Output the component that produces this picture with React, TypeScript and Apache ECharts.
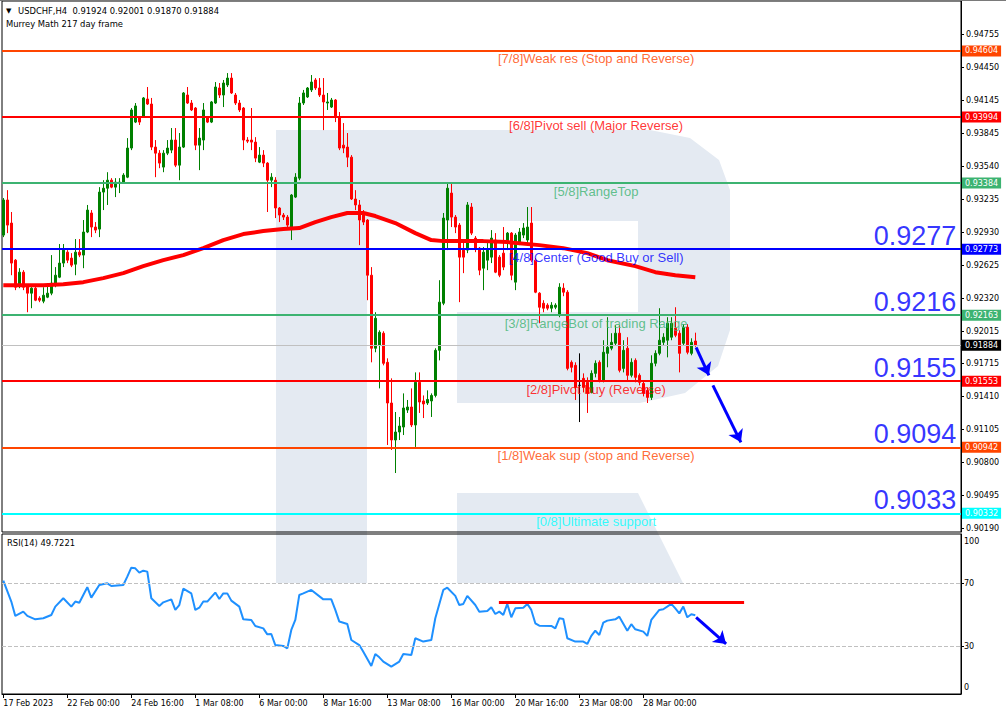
import { useEffect, useRef } from 'react';
import * as echarts from 'echarts';

// ---------------- DATA ----------------
const candleOpen = [
  0.92903, 0.93227, 0.93014, 0.92671, 0.92440, 0.92560, 0.92440, 0.92366, 0.92412, 0.92320,
  0.92292, 0.92329, 0.92366, 0.92440, 0.92514, 0.92644, 0.92745, 0.92690, 0.92634, 0.92745,
  0.92718, 0.92931, 0.93107, 0.92977, 0.92958, 0.93300, 0.93336, 0.93410, 0.93346, 0.93383,
  0.93392, 0.93438, 0.93707, 0.93947, 0.93994, 0.93994, 0.94160, 0.94114, 0.93716, 0.93660,
  0.93531, 0.93660, 0.93688, 0.93781, 0.93549, 0.93716, 0.94197, 0.94123, 0.94077, 0.93734,
  0.93781, 0.93985, 0.93947, 0.94123, 0.94262, 0.94197, 0.94290, 0.94354, 0.94197, 0.94123,
  0.94077, 0.93781, 0.93781, 0.93762, 0.93577, 0.93642, 0.93568, 0.93410, 0.93410, 0.93153,
  0.93088, 0.93069, 0.92977, 0.93254, 0.93429, 0.94123, 0.94179, 0.94244, 0.94336, 0.94262,
  0.94197, 0.94123, 0.94086, 0.94151, 0.93994, 0.93734, 0.93716, 0.93623, 0.93236, 0.93181,
  0.93088, 0.93042, 0.92532, 0.91857, 0.91884, 0.91996, 0.91727, 0.91351, 0.91009, 0.91083,
  0.91129, 0.91286, 0.91314, 0.91148, 0.91542, 0.91370, 0.91351, 0.91370, 0.91421, 0.91838,
  0.92273, 0.93042, 0.93291, 0.93069, 0.92995, 0.92764, 0.92764, 0.93162, 0.92875, 0.92782,
  0.92597, 0.92671, 0.92699, 0.92857, 0.92699, 0.92736, 0.92838, 0.92921, 0.92468, 0.92838,
  0.92903, 0.92857, 0.93014, 0.92671, 0.92366, 0.92273, 0.92255, 0.92227, 0.92236, 0.92162,
  0.92412, 0.92375, 0.91727, 0.91699, 0.91514, 0.91579, 0.91542, 0.91449, 0.91625, 0.91727,
  0.91560, 0.91810, 0.91857, 0.91903, 0.91996, 0.91671, 0.91857, 0.91607, 0.91745, 0.91607,
  0.91532, 0.91468, 0.91403, 0.91718, 0.91810, 0.91912, 0.91931, 0.91959, 0.92042, 0.91996,
  0.91903, 0.92051, 0.91810, 0.91924
];
const candleClose = [
  0.93227, 0.92995, 0.92644, 0.92421, 0.92560, 0.92421, 0.92366, 0.92412, 0.92301, 0.92301,
  0.92347, 0.92366, 0.92458, 0.92532, 0.92644, 0.92764, 0.92671, 0.92625, 0.92745, 0.92718,
  0.92931, 0.93134, 0.92977, 0.92949, 0.93300, 0.93336, 0.93410, 0.93346, 0.93392, 0.93392,
  0.93457, 0.93707, 0.94059, 0.94096, 0.93947, 0.94170, 0.94114, 0.93716, 0.93660, 0.93568,
  0.93660, 0.93707, 0.93781, 0.93549, 0.93716, 0.94216, 0.94123, 0.94059, 0.93734, 0.93799,
  0.94059, 0.93947, 0.94133, 0.94271, 0.94197, 0.94308, 0.94354, 0.94216, 0.94123, 0.94059,
  0.93781, 0.93771, 0.93762, 0.93614, 0.93642, 0.93568, 0.93410, 0.93438, 0.93153, 0.93088,
  0.93069, 0.92995, 0.93273, 0.93438, 0.94123, 0.94216, 0.94262, 0.94317, 0.94262, 0.94197,
  0.94133, 0.94133, 0.94151, 0.93994, 0.93707, 0.93707, 0.93623, 0.93236, 0.93181, 0.93042,
  0.93023, 0.92532, 0.91857, 0.92134, 0.92005, 0.91718, 0.91351, 0.91009, 0.91083, 0.91138,
  0.91305, 0.91314, 0.91148, 0.91542, 0.91360, 0.91342, 0.91384, 0.91421, 0.91838, 0.92283,
  0.93060, 0.93336, 0.93069, 0.92977, 0.92699, 0.92699, 0.93181, 0.92921, 0.92782, 0.92579,
  0.92745, 0.92764, 0.92875, 0.92560, 0.92532, 0.92607, 0.92921, 0.92532, 0.92903, 0.92931,
  0.92968, 0.92977, 0.92671, 0.92375, 0.92236, 0.92227, 0.92227, 0.92255, 0.92255, 0.92421,
  0.92375, 0.91671, 0.91681, 0.91495, 0.91514, 0.91495, 0.91440, 0.91625, 0.91718, 0.91560,
  0.91820, 0.91866, 0.91912, 0.91996, 0.91653, 0.91838, 0.91607, 0.91727, 0.91588, 0.91542,
  0.91440, 0.91403, 0.91718, 0.91810, 0.91931, 0.91959, 0.92088, 0.92088, 0.91977, 0.91810,
  0.92051, 0.91820, 0.91912, 0.91884
];
const candleLow = [
  0.92884, 0.92921, 0.92532, 0.92394, 0.92412, 0.92394, 0.92190, 0.92227, 0.92292, 0.92283,
  0.92273, 0.92320, 0.92347, 0.92421, 0.92505, 0.92607, 0.92644, 0.92607, 0.92532, 0.92699,
  0.92597, 0.92921, 0.92884, 0.92921, 0.92884, 0.93134, 0.93181, 0.93336, 0.93254, 0.93291,
  0.93383, 0.93429, 0.93688, 0.93938, 0.93920, 0.93985, 0.94105, 0.93688, 0.93438, 0.93521,
  0.93484, 0.93642, 0.93660, 0.93531, 0.93410, 0.93707, 0.94114, 0.94049, 0.93688, 0.93503,
  0.93688, 0.93938, 0.93938, 0.94114, 0.94170, 0.94086, 0.94271, 0.94207, 0.94105, 0.94040,
  0.93688, 0.93753, 0.93688, 0.93577, 0.93568, 0.93531, 0.93116, 0.93346, 0.93060, 0.93023,
  0.93042, 0.92977, 0.92857, 0.93245, 0.93410, 0.94105, 0.94170, 0.94225, 0.94244, 0.94179,
  0.93873, 0.94059, 0.94077, 0.93947, 0.93688, 0.93660, 0.93531, 0.93227, 0.93134, 0.92810,
  0.92995, 0.92301, 0.91727, 0.91820, 0.91486, 0.91699, 0.90963, 0.90917, 0.90704, 0.91009,
  0.91055, 0.91259, 0.91129, 0.90945, 0.91259, 0.91212, 0.91333, 0.91222, 0.91403, 0.91745,
  0.92255, 0.92764, 0.92977, 0.92921, 0.92283, 0.92551, 0.92736, 0.92903, 0.92745, 0.92532,
  0.92394, 0.92579, 0.92644, 0.92551, 0.92514, 0.92579, 0.92764, 0.92486, 0.92394, 0.92810,
  0.92875, 0.92829, 0.92653, 0.92366, 0.92088, 0.92190, 0.92208, 0.92190, 0.92218, 0.92144,
  0.92338, 0.91653, 0.91634, 0.91379, 0.91175, 0.91449, 0.91259, 0.91440, 0.91588, 0.91542,
  0.91542, 0.91681, 0.91838, 0.91884, 0.91634, 0.91634, 0.91560, 0.91588, 0.91542, 0.91514,
  0.91412, 0.91351, 0.91379, 0.91690, 0.91792, 0.91884, 0.91773, 0.91931, 0.91959, 0.91634,
  0.91884, 0.91801, 0.91792, 0.91870
];
const candleHigh = [
  0.93245, 0.93318, 0.93116, 0.92681, 0.92597, 0.92579, 0.92449, 0.92421, 0.92431, 0.92338,
  0.92421, 0.92458, 0.92718, 0.92607, 0.92820, 0.92820, 0.92764, 0.92736, 0.92866, 0.92866,
  0.93042, 0.93181, 0.93134, 0.93023, 0.93346, 0.93410, 0.93484, 0.93429, 0.93429, 0.93429,
  0.93475, 0.93799, 0.94077, 0.94123, 0.94003, 0.94179, 0.94271, 0.94170, 0.93781, 0.93688,
  0.93688, 0.93781, 0.93892, 0.93892, 0.93846, 0.94225, 0.94271, 0.94151, 0.94086, 0.93892,
  0.94123, 0.93994, 0.94142, 0.94317, 0.94308, 0.94336, 0.94400, 0.94400, 0.94216, 0.94151,
  0.94086, 0.93808, 0.94077, 0.93808, 0.93716, 0.93688, 0.93577, 0.93475, 0.93438, 0.93162,
  0.93107, 0.93088, 0.93282, 0.93475, 0.94179, 0.94244, 0.94271, 0.94382, 0.94354, 0.94354,
  0.94354, 0.94216, 0.94170, 0.94160, 0.94040, 0.93938, 0.93846, 0.93642, 0.93318, 0.93227,
  0.93134, 0.93051, 0.92607, 0.92190, 0.92023, 0.92014, 0.91764, 0.91579, 0.91268, 0.91222,
  0.91440, 0.91379, 0.91486, 0.91634, 0.91634, 0.91421, 0.91468, 0.91440, 0.91857, 0.92486,
  0.93107, 0.93383, 0.93383, 0.93088, 0.93014, 0.92838, 0.93208, 0.93199, 0.92894, 0.92792,
  0.92792, 0.92829, 0.92949, 0.92921, 0.92718, 0.92977, 0.92931, 0.92931, 0.92921, 0.92968,
  0.93014, 0.93162, 0.93162, 0.92690, 0.92375, 0.92301, 0.92273, 0.92283, 0.92273, 0.92458,
  0.92458, 0.92394, 0.91745, 0.91727, 0.91810, 0.91625, 0.91588, 0.91653, 0.91745, 0.91745,
  0.91931, 0.92144, 0.91996, 0.92070, 0.92070, 0.91931, 0.91959, 0.91764, 0.91764, 0.91625,
  0.91560, 0.91495, 0.91792, 0.91838, 0.92227, 0.91996, 0.92144, 0.92144, 0.92236, 0.92023,
  0.92079, 0.92079, 0.91949, 0.92001
];

// moving average (read at sample bars)
const maBars = [0, 10, 15, 20, 25, 30, 35, 40, 45, 50, 55, 60, 65, 70, 74, 78, 82, 86, 90, 93, 98, 103, 107, 110, 120, 126, 134, 140, 146, 151, 158, 163, 168, 173];
const maValues = [0.92440, 0.92440, 0.92449, 0.92468, 0.92505, 0.92551, 0.92616, 0.92671, 0.92718, 0.92782, 0.92857, 0.92912, 0.92940, 0.92958, 0.92968, 0.93023, 0.93069, 0.93107, 0.93107, 0.93079, 0.93014, 0.92921, 0.92857, 0.92847, 0.92847, 0.92838, 0.92810, 0.92782, 0.92736, 0.92671, 0.92616, 0.92560, 0.92532, 0.92514];

// RSI(14)
const rsiBars = [0, 2, 3, 5, 6, 7, 8, 10, 12, 13, 15, 17, 18, 19, 21, 22, 24, 26, 27, 30, 31, 32, 33, 34, 35, 36, 37, 39, 40, 42, 43, 44, 45, 47, 48, 49, 50, 51, 53, 54, 55, 56, 57, 59, 60, 62, 63, 65, 66, 67, 68, 70, 71, 72, 73, 74, 75, 77, 80, 82, 83, 84, 86, 87, 89, 90, 92, 93, 94, 95, 97, 99, 100, 102, 103, 105, 107, 108, 110, 111, 113, 114, 115, 116, 118, 119, 121, 122, 123, 124, 125, 126, 127, 128, 130, 131, 132, 133, 134, 137, 138, 139, 140, 141, 143, 145, 146, 147, 148, 149, 150, 151, 153, 154, 156, 157, 158, 160, 161, 162, 163, 164, 165, 167, 168, 169, 170, 171, 172, 173];
const rsiValues = [71.7, 58.4, 49.3, 52, 49.3, 48.2, 47.1, 47.8, 49.9, 55.2, 60.5, 55.2, 58.4, 57.7, 67.5, 60.9, 68.9, 70, 68.3, 68.9, 74.2, 79.9, 79.5, 76.8, 78, 77.4, 60.5, 55.6, 57.9, 59.8, 53.1, 56.2, 66.6, 63.6, 53.1, 54.5, 58.4, 58.4, 64.1, 60, 63.6, 63.6, 59, 55.2, 47.1, 46.7, 42.9, 41.4, 37.6, 37.8, 30.8, 30.2, 28.7, 40.4, 46.7, 62.6, 63.6, 65.8, 59.8, 59.8, 53.1, 45.7, 44.2, 34, 30.8, 26.6, 17.5, 25.1, 23, 20.3, 17.1, 20.3, 25.1, 24.5, 35.1, 33, 34, 47.8, 65.8, 67.2, 62, 56.2, 56.9, 62, 56.2, 52, 52.4, 54.8, 50.5, 52, 49.9, 56.9, 48.4, 54.1, 54.5, 56.9, 53.1, 44.6, 43.1, 42.9, 41.4, 47.8, 47.4, 35.1, 33, 33, 31.5, 36.6, 39.9, 37.2, 45, 46.3, 47.1, 48.8, 39.9, 44, 40.8, 39.3, 36.6, 46.7, 49.9, 53.1, 53.5, 56.9, 54.1, 50.9, 55.2, 48.4, 50.3, 49.7221];
const rsiLevels = [70, 30];
const rsiTicks = [0, 30, 70, 100];

// Murrey Math levels
const levelValues = [0.94604, 0.93994, 0.93384, 0.92773, 0.92163, 0.91553, 0.90942, 0.90332];
const levelNames = [
  '[7/8]Weak res (Stop and Reverse)',
  '[6/8]Pivot sell (Major Reverse)',
  '[5/8]RangeTop',
  '[4/8]Center (Good Buy or Sell)',
  '[3/8]RangeBot of trading Range',
  '[2/8]Pivot buy (Reverse)',
  '[1/8]Weak sup (stop and Reverse)',
  '[0/8]Ultimate support'
];
const bigLabelLevels = [0.92773, 0.92163, 0.91553, 0.90942, 0.90332];
const bidPrice = 0.91884;

// trend annotations (bar index, value)
const priceArrows = [
  [[173.2, 0.91866], [176.4, 0.91607]],
  [[177.4, 0.91514], [184.4, 0.90988]]
];
const rsiResistance = [[123.9, 57.7], [185.2, 57.7]];
const rsiArrow = [[173.2, 48.4], [180.7, 31.5]];

// axis ticks
const priceTicks = [0.94755, 0.94450, 0.94145, 0.93845, 0.93540, 0.93235, 0.92930, 0.92625, 0.92320, 0.92015, 0.91715, 0.91410, 0.91105, 0.90800, 0.90495, 0.90190];
const timeTickBars = [0, 16, 32, 48, 64, 80, 96, 112, 128, 144, 160];
const timeTickLabels = ['17 Feb 2023', '22 Feb 00:00', '24 Feb 16:00', '1 Mar 08:00', '6 Mar 00:00', '8 Mar 16:00', '13 Mar 08:00', '16 Mar 00:00', '20 Mar 16:00', '23 Mar 08:00', '28 Mar 00:00'];

const symbolName = 'USDCHF,H4';
const indicatorTitle = 'Murrey Math 217 day frame';

// ---------------- STYLE / LAYOUT ----------------
const levelColors = ['#ff4500', '#ff0000', '#3cb371', '#0000ff', '#3cb371', '#ff0000', '#ff4500', '#00ffff'];
const X_MIN = -0.325;
const X_MAX = 239.425;
const Y_MIN = 0.90159;
const Y_MAX = 0.95066;
const RSI_MIN = -0.29;
const RSI_MAX = 101.3;
const NOTE_BAR = 148.2;
const BIG_BAR = 238.4;
const AXIS_FONT = 'DejaVu Sans';
const TEXT_FONT = 'Liberation Sans, Arial, sans-serif';
const WM = '#e4eaf2';

function buildOption() {
  const n = candleOpen.length;
  const candles = [];
  for (let i = 0; i < n; i++) candles.push([i, candleOpen[i], candleClose[i], candleLow[i], candleHigh[i]]);
  const ma = maBars.map((b, k) => [b, maValues[k]]);
  const rsi = rsiBars.map((b, k) => [b, rsiValues[k]]);
  const last = n - 1;
  const header = `${symbolName}  ${candleOpen[last].toFixed(5)} ${candleHigh[last].toFixed(5)} ${candleLow[last].toFixed(5)} ${candleClose[last].toFixed(5)}`;
  const rsiTitle = `RSI(14) ${rsiValues[rsiValues.length - 1].toFixed(4)}`;

  const boxLabel = (bg: string, v: number) => ({
    show: true,
    position: 'end',
    distance: 1,
    formatter: v.toFixed(5),
    color: '#ffffff',
    backgroundColor: bg,
    padding: [2, 3, 1, 3],
    fontSize: 8,
    fontFamily: AXIS_FONT
  });

  const levelLines: any[] = levelValues.map((v, k) => ({
    yAxis: v,
    lineStyle: { color: levelColors[k], width: 2, type: 'solid' },
    label: boxLabel(levelColors[k], v)
  }));
  levelLines.unshift({
    yAxis: bidPrice,
    lineStyle: { color: '#c0c0c0', width: 1, type: 'solid' },
    label: boxLabel('#000000', bidPrice)
  });

  const axisText = { color: '#000', fontSize: 8, fontFamily: AXIS_FONT };

  return {
    animation: false,
    backgroundColor: '#ffffff',
    grid: [
      { left: 2, right: 45, top: 1, height: 531, show: true, borderColor: '#000', borderWidth: 1, backgroundColor: 'transparent', containLabel: false, outerBoundsMode: 'none' },
      { left: 2, right: 45, top: 534, height: 160, show: true, borderColor: '#000', borderWidth: 1, backgroundColor: 'transparent', containLabel: false, outerBoundsMode: 'none' }
    ],
    xAxis: [
      { gridIndex: 0, type: 'value', min: X_MIN, max: X_MAX, show: false, splitLine: { show: false } },
      {
        gridIndex: 1, type: 'value', min: X_MIN, max: X_MAX, position: 'bottom',
        axisLine: { show: true, onZero: false, lineStyle: { color: '#000', width: 1 } },
        axisTick: { show: true, length: 4, customValues: timeTickBars, lineStyle: { color: '#000' } },
        axisLabel: {
          show: true, customValues: timeTickBars, margin: 5, align: 'left', ...axisText,
          formatter: (v: number) => { const k = timeTickBars.indexOf(v); return k >= 0 ? timeTickLabels[k] : ''; }
        },
        splitLine: { show: false }
      }
    ],
    yAxis: [
      {
        gridIndex: 0, type: 'value', position: 'right', min: Y_MIN, max: Y_MAX,
        axisLine: { show: true, onZero: false, lineStyle: { color: '#000', width: 1 } },
        axisTick: { show: true, length: 3, customValues: priceTicks, lineStyle: { color: '#000' } },
        axisLabel: { show: true, customValues: priceTicks, margin: 5, ...axisText, formatter: (v: number) => v.toFixed(5) },
        splitLine: { show: false }
      },
      {
        gridIndex: 1, type: 'value', position: 'right', min: RSI_MIN, max: RSI_MAX,
        axisLine: { show: true, onZero: false, lineStyle: { color: '#000', width: 1 } },
        axisTick: { show: true, length: 3, customValues: [30, 70], lineStyle: { color: '#000' } },
        axisLabel: {
          show: true, customValues: rsiTicks, margin: 3, ...axisText,
          formatter: (v: number) => (v === 100 ? '{hi|100}' : v === 0 ? '{lo|0}' : String(v)),
          rich: {
            hi: { padding: [10, 0, 0, 0], ...axisText },
            lo: { padding: [0, 0, 13, 0], ...axisText }
          }
        },
        splitLine: { show: false }
      }
    ],
    series: [
      {
        name: 'price', type: 'candlestick', xAxisIndex: 0, yAxisIndex: 0, z: 2,
        barWidth: 2,
        itemStyle: { color: '#008000', color0: '#ff0000', borderColor: '#008000', borderColor0: '#ff0000', borderColorDoji: '#000000', borderWidth: 1 },
        data: candles
      },
      {
        name: 'MA', type: 'line', xAxisIndex: 0, yAxisIndex: 0, z: 3, symbol: 'none', silent: true,
        lineStyle: { color: '#ff0000', width: 4 },
        data: ma
      },
      {
        name: 'levels', type: 'line', xAxisIndex: 0, yAxisIndex: 0, z: 4, data: [], silent: true,
        markLine: { silent: true, precision: 5, symbol: ['none', 'none'], animation: false, data: levelLines }
      },
      {
        name: 'levelNotes', type: 'scatter', xAxisIndex: 0, yAxisIndex: 0, z: 5, silent: true, symbolSize: 1,
        itemStyle: { color: 'transparent' },
        data: levelValues.map((v, k) => ({
          value: [NOTE_BAR, v],
          label: { show: true, position: 'bottom', distance: 1, formatter: levelNames[k], color: levelColors[k], fontSize: 13, fontFamily: TEXT_FONT }
        }))
      },
      {
        name: 'levelBig', type: 'scatter', xAxisIndex: 0, yAxisIndex: 0, z: 5, silent: true, symbolSize: 1,
        itemStyle: { color: 'transparent' },
        data: bigLabelLevels.map((v) => ({
          value: [BIG_BAR, v],
          label: { show: true, position: 'left', distance: 0, offset: [0, -13], formatter: v.toFixed(4), color: '#0000ff', fontSize: 27, fontFamily: TEXT_FONT }
        }))
      },
      {
        name: 'arrows', type: 'line', xAxisIndex: 0, yAxisIndex: 0, z: 6, data: [], silent: true,
        markLine: {
          silent: true, precision: 5, symbol: ['none', 'arrow'], symbolSize: 12, label: { show: false },
          lineStyle: { color: '#0000ff', width: 3, type: 'solid' },
          data: priceArrows.map((a) => [{ coord: a[0] }, { coord: a[1] }])
        }
      },
      {
        name: 'RSI', type: 'line', xAxisIndex: 1, yAxisIndex: 1, z: 3, symbol: 'none', silent: true,
        lineStyle: { color: '#1e90ff', width: 2 },
        data: rsi,
        markLine: {
          silent: true, precision: 2, symbol: ['none', 'none'], label: { show: false },
          lineStyle: { color: '#c0c0c0', width: 1, type: 'dashed' },
          data: rsiLevels.map((v) => ({ yAxis: v }))
        }
      },
      {
        name: 'rsiResistance', type: 'line', xAxisIndex: 1, yAxisIndex: 1, z: 4, data: [], silent: true,
        markLine: {
          silent: true, precision: 3, symbol: ['none', 'none'], label: { show: false },
          lineStyle: { color: '#ff0000', width: 3, type: 'solid' },
          data: [[{ coord: rsiResistance[0] }, { coord: rsiResistance[1] }]]
        }
      },
      {
        name: 'rsiArrow', type: 'line', xAxisIndex: 1, yAxisIndex: 1, z: 5, data: [], silent: true,
        markLine: {
          silent: true, precision: 3, symbol: ['none', 'arrow'], symbolSize: 12, label: { show: false },
          lineStyle: { color: '#0000ff', width: 3, type: 'solid' },
          data: [[{ coord: rsiArrow[0] }, { coord: rsiArrow[1] }]]
        }
      }
    ],
    graphic: {
      elements: [
        { type: 'rect', z: -10, silent: true, shape: { x: 276, y: 130, width: 91, height: 453 }, style: { fill: WM } },
        {
          type: 'polygon', z: -10, silent: true,
          shape: { points: [[367, 130], [650, 130], [690, 138], [719, 160], [730, 190], [730, 330], [718, 366], [685, 393], [640, 403], [457, 403], [457, 312], [638, 312], [638, 221], [367, 221]] },
          style: { fill: WM }
        },
        { type: 'polygon', z: -10, silent: true, shape: { points: [[457, 493], [638, 493], [683, 583], [457, 583]] }, style: { fill: WM } },
        { type: 'rect', z: 10, silent: true, shape: { x: 0, y: 0, width: 1006, height: 1 }, style: { fill: '#7a7a7a' } },
        { type: 'text', z: 10, silent: true, x: 6, y: 11, style: { text: '▼', fontSize: 7, fontFamily: AXIS_FONT, fill: '#000', verticalAlign: 'middle' } },
        { type: 'text', z: 10, silent: true, x: 18, y: 11, style: { text: header, fontSize: 8.4, fontFamily: AXIS_FONT, fill: '#000', verticalAlign: 'middle' } },
        { type: 'text', z: 10, silent: true, x: 6, y: 24, style: { text: indicatorTitle, fontSize: 8.4, fontFamily: AXIS_FONT, fill: '#000', verticalAlign: 'middle' } },
        { type: 'text', z: 10, silent: true, x: 7, y: 543, style: { text: rsiTitle, fontSize: 8.4, fontFamily: AXIS_FONT, fill: '#000', verticalAlign: 'middle' } }
      ]
    }
  };
}

export default function App() {
  const ref = useRef<HTMLDivElement>(null);
  useEffect(() => {
    if (!ref.current) return;
    const chart = echarts.init(ref.current, null, { renderer: 'svg' });
    chart.setOption(buildOption() as any);
    return () => chart.dispose();
  }, []);
  return <div ref={ref} style={{ position: 'absolute', left: 0, top: 0, width: 1006, height: 715, background: '#ffffff' }} />;
}
